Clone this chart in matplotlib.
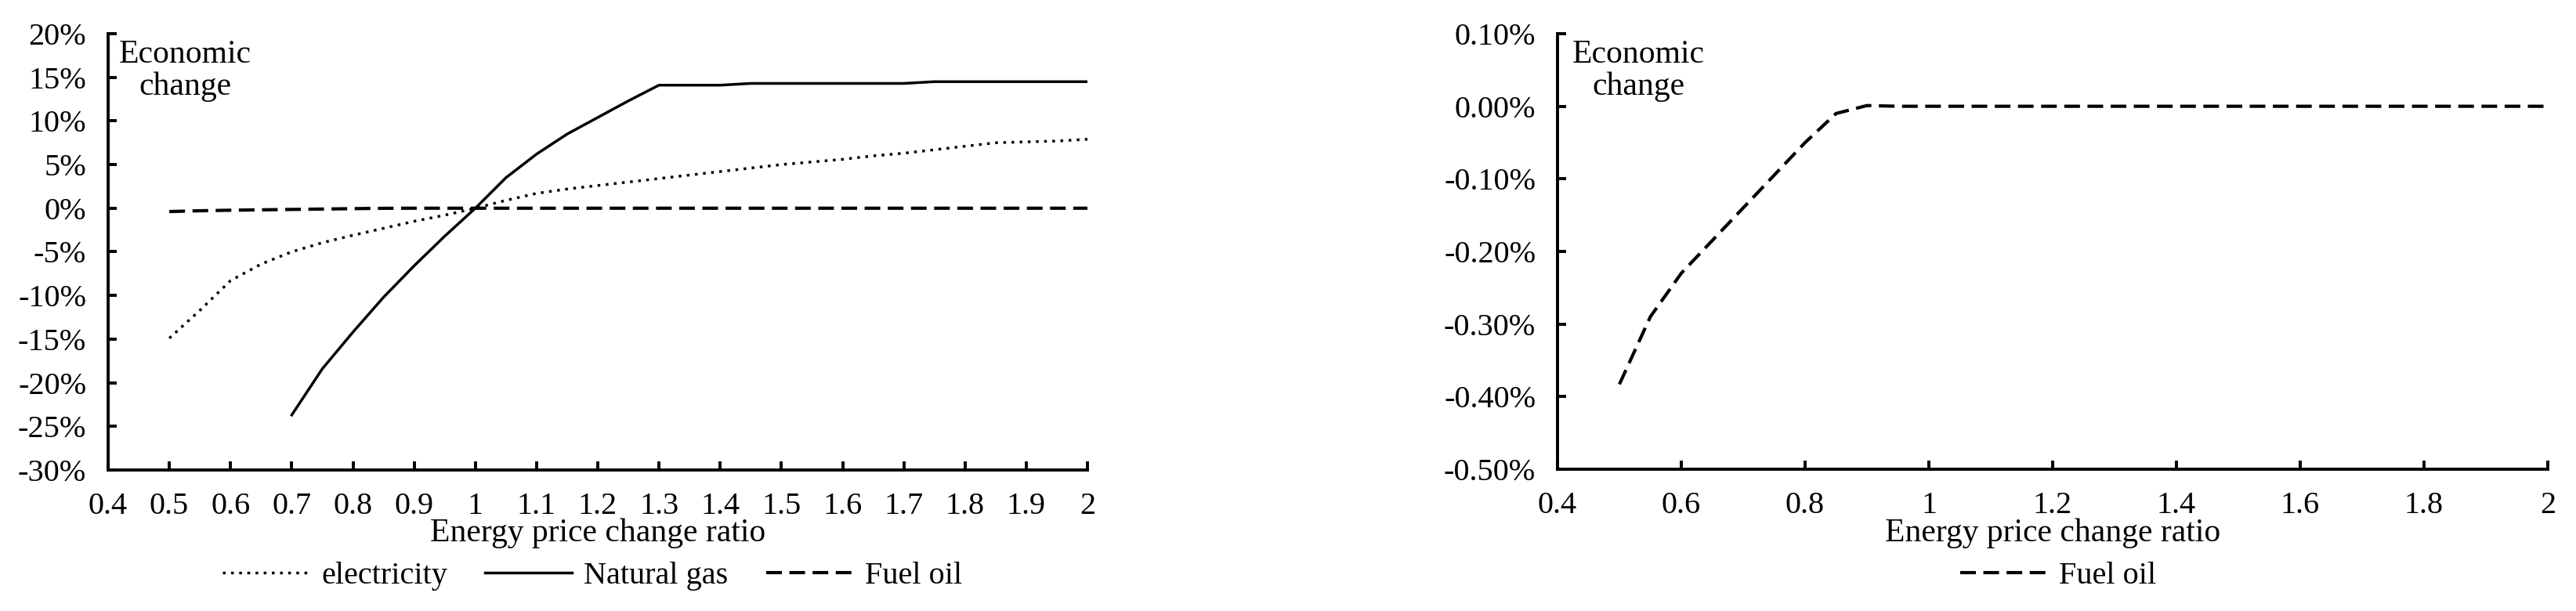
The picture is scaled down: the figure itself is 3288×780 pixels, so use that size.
import matplotlib
matplotlib.use("Agg")
import matplotlib.pyplot as plt
from matplotlib.ticker import FixedLocator, FixedFormatter

plt.rcParams['font.family'] = ['Liberation Serif', 'DejaVu Serif']

# energy price change ratio
ratio = [0.5, 0.55, 0.6, 0.65, 0.7, 0.75, 0.8, 0.85, 0.9, 0.95, 1.0,
         1.05, 1.1, 1.15, 1.2, 1.25, 1.3, 1.35, 1.4, 1.45, 1.5,
         1.55, 1.6, 1.65, 1.7, 1.75, 1.8, 1.85, 1.9, 1.95, 2.0]

# economic change, %
electricity = [-14.9, -11.7, -8.3, -6.4, -5.0, -3.95, -3.1, -2.3, -1.5, -0.8, 0.0,
               0.9, 1.7, 2.2, 2.6, 3.0, 3.4, 3.8, 4.2, 4.6, 5.0,
               5.3, 5.6, 6.0, 6.3, 6.7, 7.1, 7.5, 7.6, 7.7, 7.9]

gas_ratio = ratio[4:]
natural_gas = [-23.7, -18.4, -14.2, -10.2, -6.6, -3.2, 0.0,
               3.5, 6.2, 8.5, 10.4, 12.3, 14.1, 14.1, 14.1, 14.3, 14.3,
               14.3, 14.3, 14.3, 14.3, 14.5, 14.5, 14.5, 14.5, 14.5, 14.5]

fuel_oil = [-0.383, -0.29, -0.23, -0.185, -0.14, -0.095, -0.05, -0.01, 0.001, 0.0, 0.0,
            0.0, 0.0, 0.0, 0.0, 0.0, 0.0, 0.0, 0.0, 0.0, 0.0,
            0.0, 0.0, 0.0, 0.0, 0.0, 0.0, 0.0, 0.0, 0.0, 0.0]

left_xticks = [0.4, 0.5, 0.6, 0.7, 0.8, 0.9, 1.0, 1.1, 1.2, 1.3, 1.4, 1.5, 1.6, 1.7, 1.8, 1.9, 2.0]
left_xlabels = ["0.4", "0.5", "0.6", "0.7", "0.8", "0.9", "1", "1.1", "1.2", "1.3",
                "1.4", "1.5", "1.6", "1.7", "1.8", "1.9", "2"]
left_yticks = [20, 15, 10, 5, 0, -5, -10, -15, -20, -25, -30]
left_ylabels = ["20%", "15%", "10%", "5%", "0%", "-5%", "-10%", "-15%", "-20%", "-25%", "-30%"]

right_xticks = [0.4, 0.6, 0.8, 1.0, 1.2, 1.4, 1.6, 1.8, 2.0]
right_xlabels = ["0.4", "0.6", "0.8", "1", "1.2", "1.4", "1.6", "1.8", "2"]
right_yticks = [0.1, 0.0, -0.1, -0.2, -0.3, -0.4, -0.5]
right_ylabels = ["0.10%", "0.00%", "-0.10%", "-0.20%", "-0.30%", "-0.40%", "-0.50%"]

FS = 29
W, H = 3288, 780

fig = plt.figure(figsize=(W / 100, H / 100), dpi=100)
ax1 = fig.add_axes([138 / W, 180 / H, 1250 / W, 557 / H])
ax2 = fig.add_axes([1988 / W, 181 / H, 1264 / W, 556 / H])


def style_axis(ax, xt, xl, yt, yl):
    for s in ['top', 'right']:
        ax.spines[s].set_visible(False)
    for s in ['left', 'bottom']:
        ax.spines[s].set_linewidth(2.8)
    ax.xaxis.set_major_locator(FixedLocator(xt))
    ax.xaxis.set_major_formatter(FixedFormatter(xl))
    ax.yaxis.set_major_locator(FixedLocator(yt))
    ax.yaxis.set_major_formatter(FixedFormatter(yl))
    ax.tick_params(axis='both', direction='in', length=8, width=2.8, labelsize=FS)
    ax.tick_params(axis='x', pad=20)
    ax.tick_params(axis='y', pad=20)
    ax.set_xlabel("Energy price change ratio", fontsize=FS + 1, labelpad=-2)


# left: all three energies
l1, = ax1.plot(ratio, electricity, color='black', lw=2.5, linestyle=(0, (1, 2)), label='electricity')
l2, = ax1.plot(gas_ratio, natural_gas, color='black', lw=2.5, label='Natural gas')
l3, = ax1.plot(ratio, fuel_oil, color='black', lw=3, linestyle=(0, (4.8, 2.3)), label='Fuel oil')
ax1.set_xlim(0.4, 2.0)
ax1.set_ylim(-30, 20)
style_axis(ax1, left_xticks, left_xlabels, left_yticks, left_ylabels)
ax1.legend(handles=[l1, l2, l3], loc='center', bbox_to_anchor=(756 / W, 1 - 735 / H),
           bbox_transform=fig.transFigure, ncol=3, frameon=False, fontsize=FS,
           handlelength=2.75, handletextpad=0.38, columnspacing=1.2)

# right: fuel oil only
r1, = ax2.plot(ratio, fuel_oil, color='black', lw=3, linestyle=(0, (4.8, 2.3)), label='Fuel oil')
ax2.set_xlim(0.4, 2.0)
ax2.set_ylim(-0.5, 0.1)
style_axis(ax2, right_xticks, right_xlabels, right_yticks, right_ylabels)
ax2.legend(handles=[r1], loc='center', bbox_to_anchor=(2627 / W, 1 - 735 / H),
           bbox_transform=fig.transFigure, frameon=False, fontsize=FS,
           handlelength=2.75, handletextpad=0.38)

fig.text(236 / W, 1 - 50 / H, "Economic\nchange", ha='center', va='top',
         fontsize=FS + 1, linespacing=1.1)
fig.text(2091 / W, 1 - 50 / H, "Economic\nchange", ha='center', va='top',
         fontsize=FS + 1, linespacing=1.1)

fig.savefig("out.png", dpi=100, facecolor='white')
plt.close()
